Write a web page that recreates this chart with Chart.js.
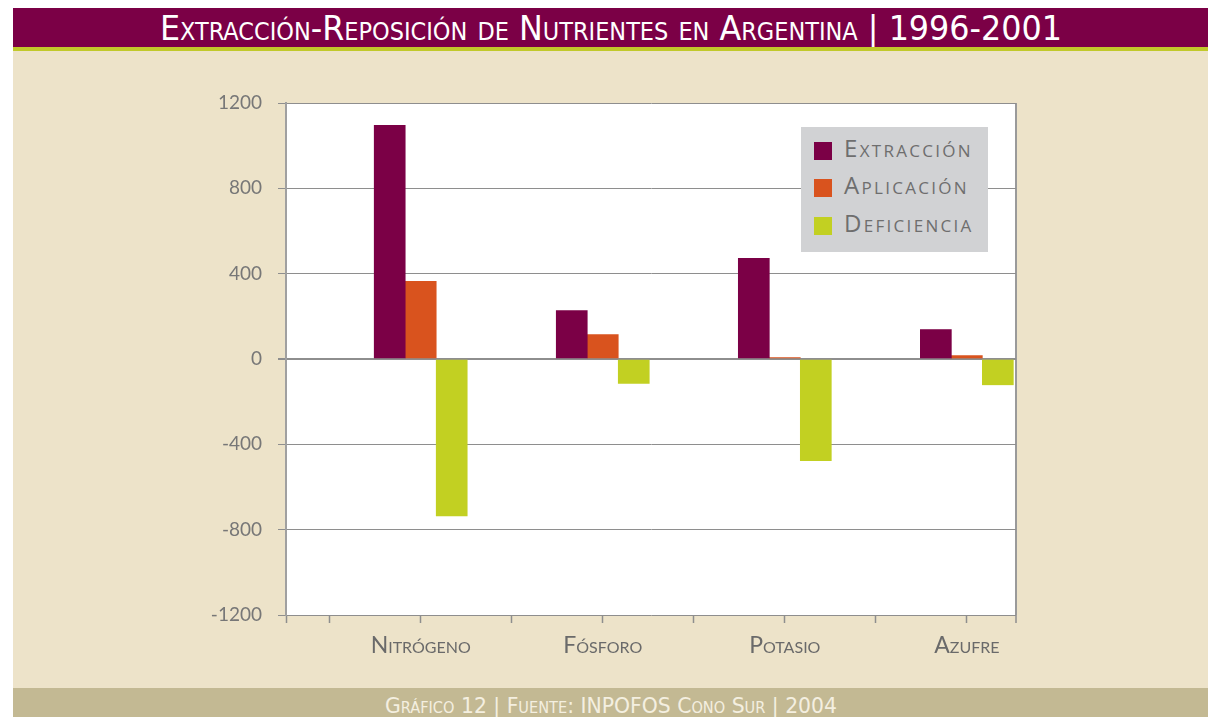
<!DOCTYPE html>
<html lang="es">
<head>
<meta charset="utf-8">
<script src="https://cdn.jsdelivr.net/npm/chart.js@4.4.1/dist/chart.umd.min.js"></script>
<style>
  html, body { margin: 0; padding: 0; background: #ffffff; width: 1208px; height: 717px; overflow: hidden; }
  #title { position: absolute; left: 13px; top: 8px; width: 1195px; height: 39px; background: #7b0046; overflow: hidden; }
  #title span { position: absolute; left: 50%; top: 50%; white-space: nowrap; color: #ffffff;
    font-family: 'Liberation Sans Narrow', 'DejaVu Sans Condensed', 'Roboto', sans-serif;
    font-variant: small-caps; font-size: 34px; line-height: 1; transform-origin: center center; }
  #rule { position: absolute; left: 13px; top: 47px; width: 1195px; height: 4px; background: #c1c92a; }
  #panel { position: absolute; left: 13px; top: 51px; width: 1195px; height: 637px; background: #ede3c9; }
  #footer { position: absolute; left: 13px; top: 688px; width: 1195px; height: 29px; background: #c3b993; overflow: hidden; }
  #footer span { position: absolute; left: 50%; top: 8px; white-space: nowrap; color: #f4efe0;
    font-family: 'Liberation Sans Narrow', 'DejaVu Sans Condensed', 'Roboto', sans-serif;
    font-variant: small-caps; font-size: 21px; line-height: 1; transform-origin: center top; }
  #chartWrap { position: absolute; left: 0; top: 0; width: 1195px; height: 637px; }
  #legend { position: absolute; left: 788px; top: 76px; width: 187px; height: 125px; background: #d1d2d4; }
  .item { position: absolute; left: 13px; height: 18px; }
  .sw { position: absolute; left: 0; top: 0; width: 18px; height: 18px; }
  .lab { position: absolute; left: 30px; top: -8px; white-space: nowrap; color: #6e6e6e;
    font-family: 'Open Sans', 'Lato', sans-serif; font-variant: small-caps; font-size: 24px; letter-spacing: 2.3px; line-height: 1.2; }
</style>
</head>
<body>
<div id="title"><span id="titleText">Extracción-Reposición de Nutrientes en Argentina | 1996-2001</span></div>
<div id="rule"></div>
<div id="panel">
  <div id="chartWrap"><canvas id="c" width="1195" height="637"></canvas></div>
  <div id="legend"></div>
</div>
<div id="footer"><span id="footText">Gráfico 12 | Fuente: INPOFOS Cono Sur | 2004</span></div>
<script>
// ---- data ----
const categories = ['Nitrógeno', 'Fósforo', 'Potasio', 'Azufre'];
const seriesNames = ['Extracción', 'Aplicación', 'Deficiencia'];
const extraccion = [1095, 227, 472, 138];
const aplicacion = [364, 114, 7, 16];
const deficiencia = [-735, -115, -477, -121];
const yTickValues = [-1200, -800, -400, 0, 400, 800, 1200];
const seriesColors = ['#7b0046', '#d9531e', '#c2d022'];

// ---- fit header/footer text widths ----
function fit(id, target, origin) {
  const el = document.getElementById(id);
  const w = el.getBoundingClientRect().width;
  const s = target / w;
  el.style.transform = 'translate(-50%, ' + (origin === 'mid' ? '-50%' : '0') + ') scaleX(' + s + ')';
}
fit('titleText', 902, 'mid');
fit('footText', 452, 'top');

// ---- legend ----
const legend = document.getElementById('legend');
const rowTops = [15, 52, 90];
seriesNames.forEach((n, i) => {
  const it = document.createElement('div');
  it.className = 'item';
  it.style.top = rowTops[i] + 'px';
  it.innerHTML = '<div class="sw" style="background:' + seriesColors[i] + '"></div><div class="lab">' + n + '</div>';
  legend.appendChild(it);
});

// ---- chart ----
const seriesValues = [extraccion, aplicacion, deficiencia];
const datasets = seriesNames.map((n, i) => ({
  label: n,
  data: categories.map((c, k) => ({ x: k, y: seriesValues[i][k] })),
  backgroundColor: seriesColors[i],
  borderWidth: 0,
  barThickness: 31
}));

const xMin = -0.74, xMax = 3.27;
const gray = '#8e8e8e';
const isLast = (ctx) => ctx.scale && ctx.index === ctx.scale.ticks.length - 1;

const whiteArea = {
  id: 'whiteArea',
  beforeDraw(chart) {
    const a = chart.chartArea, ctx = chart.ctx;
    ctx.save();
    ctx.fillStyle = '#ffffff';
    ctx.fillRect(a.left, a.top, a.right - a.left, a.bottom - a.top);
    ctx.restore();
  }
};

new Chart(document.getElementById('c'), {
  type: 'bar',
  data: { datasets },
  plugins: [whiteArea],
  options: {
    responsive: false,
    animation: false,
    layout: { padding: { left: 153, top: 52, right: 192, bottom: 23 } },
    plugins: { legend: { display: false }, tooltip: { enabled: false } },
    scales: {
      x: {
        type: 'linear',
        min: xMin,
        max: xMax,
        offset: false,
        afterBuildTicks(scale) {
          const t = [xMin];
          for (let k = -1; k <= (categories.length - 1) * 2; k++) t.push(k / 2);
          t.push(xMax);
          scale.ticks = t.map(v => ({ value: v }));
        },
        afterFit(scale) { scale.height = 50; },
        border: { display: false },
        grid: {
          offset: false,
          drawOnChartArea: true,
          color: (ctx) => (isLast(ctx) ? '#9a9a9a' : 'rgba(0,0,0,0)'),
          lineWidth: (ctx) => (isLast(ctx) ? 2 : 1),
          tickColor: '#8e8e8e',
          tickLength: 8,
          tickWidth: 1.5
        },
        ticks: {
          autoSkip: false,
          maxRotation: 0,
          padding: 9,
          color: '#6a6a6a',
          font: { family: "'Lato', 'Open Sans', sans-serif", size: 23, weight: 'small-caps' },
          callback: (v) => (Number.isInteger(v) && categories[v] !== undefined ? categories[v] : '')
        }
      },
      y: {
        min: -1200,
        max: 1200,
        afterBuildTicks(scale) { scale.ticks = yTickValues.map(v => ({ value: v })); },
        afterFit(scale) { scale.width = 120; },
        border: { display: true, color: '#a0a0a0', width: 2 },
        grid: {
          color: gray,
          lineWidth: (ctx) => (ctx.tick && ctx.tick.value === 0 ? 2 : 1),
          tickLength: 8,
          tickColor: gray
        },
        ticks: {
          padding: 16,
          color: '#777777',
          font: { family: "'Lato', 'Open Sans', sans-serif", size: 19 },
          callback: (v) => String(v)
        }
      }
    }
  }
});
</script>
</body>
</html>
